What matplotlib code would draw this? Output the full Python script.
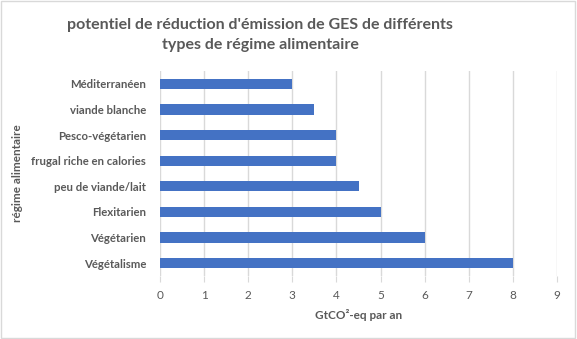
import matplotlib.pyplot as plt
from matplotlib.patches import Rectangle

regimes = ['Végétalisme', 'Végétarien', 'Flexitarien', 'peu de viande/lait',
           'frugal riche en calories', 'Pesco-végétarien', 'viande blanche',
           'Méditerranéen']
potentiel = [8, 6, 5, 4.5, 4, 4, 3.5, 3]
graduations = list(range(0, 10))

gris_texte = '#595959'
gris_grille = '#d9d9d9'
bleu = '#4472c4'

plt.rcParams['font.family'] = ['Lato', 'DejaVu Sans']

fig = plt.figure(figsize=(5.77, 3.39), dpi=100)
ax = fig.add_axes([160 / 577, 1 - 276 / 339, 397 / 577, 205 / 339])

y = list(range(len(regimes)))
ax.barh(y, potentiel, height=0.4, color=bleu, zorder=3)

ax.set_xlim(0, 9)
ax.set_ylim(-0.5, len(regimes) - 0.5)
ax.set_xticks(graduations)
ax.set_yticks(y)
ax.set_yticklabels(regimes, fontsize=8.2, fontweight='bold', color=gris_texte)
ax.tick_params(axis='x', labelsize=8.5, labelcolor=gris_texte, length=4,
               color=gris_grille, pad=6)
ax.tick_params(axis='y', length=0, pad=10)

ax.grid(axis='x', color=gris_grille, linewidth=1, zorder=0)
for s in ax.spines.values():
    s.set_visible(False)

ax.set_xlabel('GtCO²-eq par an', fontsize=8.5, fontweight='bold',
              color=gris_texte, labelpad=6)
ax.set_ylabel('régime alimentaire', fontsize=8.5, fontweight='bold',
              color=gris_texte, labelpad=6)

fig.text(260 / 577, 1 - 35 / 339, "potentiel de réduction d'émission de GES de différents\ntypes de régime alimentaire",
         ha='center', va='center', fontsize=11.5, fontweight='bold',
         color=gris_texte, linespacing=1.6)

# cadre du graphique
fig.patches.append(Rectangle((0.002, 0.003), 0.995, 0.994, transform=fig.transFigure,
                             fill=False, edgecolor=gris_grille, linewidth=1))

fig.savefig('out.png', dpi=100)
